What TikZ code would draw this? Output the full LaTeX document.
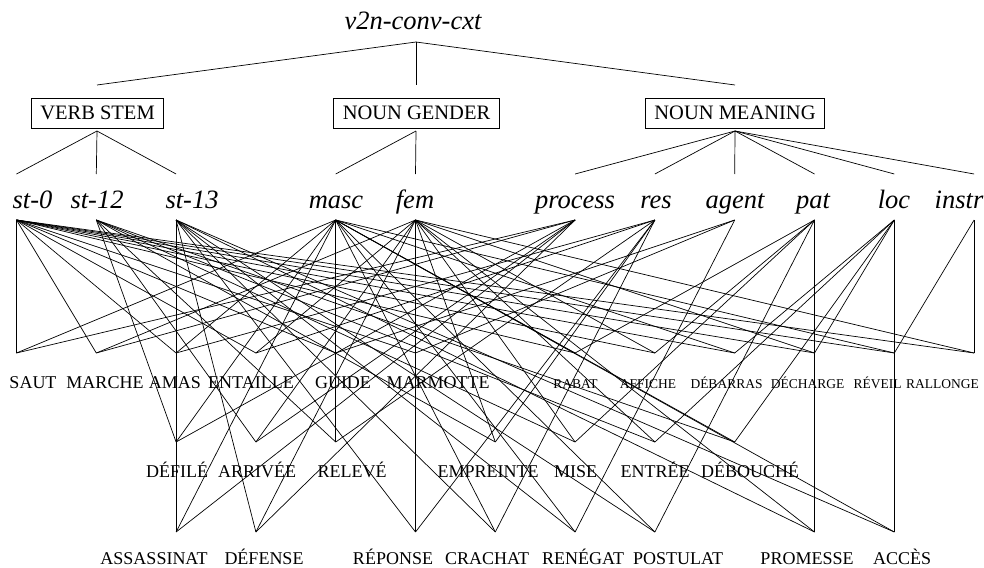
\documentclass[tikz,border=0pt]{standalone}
\usepackage{fontspec}
\setmainfont{Liberation Serif}
\begin{document}
\begin{tikzpicture}[x=1pt,y=-1pt,
  lbl/.style={anchor=base,inner sep=0pt},
  toplbl/.style={lbl,font=\fontsize{26.5}{30}\selectfont\itshape},
  biglbl/.style={lbl,font=\fontsize{18}{21}\selectfont},
  smalllbl/.style={lbl,font=\fontsize{13.5}{16}\selectfont},
  catbox/.style={draw,line width=0.8pt,inner xsep=9pt,inner ysep=0pt,minimum height=30pt,font=\fontsize{20.5}{24}\selectfont},
  conn/.style={line width=0.7pt}]
\useasboundingbox (0,0) rectangle (984,567);

% root and category boxes
\node[toplbl] (root) at (413,30) {v2n-conv-cxt};
\node[catbox] (vs) at (97.5,113) {VERB STEM};
\node[catbox] (ng) at (416.5,113) {NOUN GENDER};
\node[catbox] (nm) at (735,113) {NOUN MEANING};

\coordinate (root-b) at (416,42);
\coordinate (vs-t) at (97,85);
\coordinate (ng-t) at (416,85);
\coordinate (nm-t) at (735,85);
\coordinate (vs-b) at (97,131);
\coordinate (ng-b) at (416,131);
\coordinate (nm-b) at (735,131);

% type labels
\node[toplbl] (l-st0) at (32.5,208) {st-0};
\node[toplbl] (l-st12) at (97,208) {st-12};
\node[toplbl] (l-st13) at (192,208) {st-13};
\node[toplbl] (l-masc) at (336,208) {masc};
\node[toplbl] (l-fem) at (415,208) {fem};
\node[toplbl] (l-process) at (575,208) {process};
\node[toplbl] (l-res) at (656,208) {res};
\node[toplbl] (l-agent) at (735,208) {agent};
\node[toplbl] (l-pat) at (813,208) {pat};
\node[toplbl] (l-loc) at (894,208) {loc};
\node[toplbl] (l-instr) at (959,208) {instr};

% type attachment points (above and below the labels)
\foreach \n/\k in {st0/0,st12/1,st13/2,masc/4,fem/5,process/7,res/8,agent/9,pat/10,loc/11,instr/12}{
  \coordinate (\n-a) at ({16.5+79.8*\k},174);
  \coordinate (\n) at ({16.5+79.8*\k},220);
}

% leaf attachment points
\foreach \n/\k in {saut/0,marche/1,amas/2,entaille/3,guide/4,marmotte/5,rabat/7,affiche/8,debarras/9,decharge/10,reveil/11,rallonge/12}
  \coordinate (\n) at ({16.5+79.8*\k},353);
\foreach \n/\k in {defile/2,arrivee/3,releve/4,empreinte/6,mise/7,entree/8,debouche/9}
  \coordinate (\n) at ({16.5+79.8*\k},442);
\foreach \n/\k in {assassinat/2,defense/3,reponse/5,crachat/6,renegat/7,postulat/8,promesse/10,acces/11}
  \coordinate (\n) at ({16.5+79.8*\k},532);

% leaf labels
\node[biglbl] (w-saut) at (33,388) {SAUT};
\node[biglbl] (w-marche) at (105,388) {MARCHE};
\node[biglbl] (w-amas) at (175,388) {AMAS};
\node[biglbl] (w-entaille) at (251,388) {ENTAILLE};
\node[biglbl] (w-guide) at (343,388) {GUIDE};
\node[biglbl] (w-marmotte) at (438,388) {MARMOTTE};
\node[smalllbl] (w-rabat) at (575.5,388) {RABAT};
\node[smalllbl] (w-affiche) at (648,388) {AFFICHE};
\node[smalllbl] (w-debarras) at (726.5,388) {DÉBARRAS};
\node[smalllbl] (w-decharge) at (807.5,388) {DÉCHARGE};
\node[smalllbl] (w-reveil) at (877.5,388) {RÉVEIL};
\node[smalllbl] (w-rallonge) at (942.5,388) {RALLONGE};

\node[biglbl] (w-defile) at (177,477) {DÉFILÉ};
\node[biglbl] (w-arrivee) at (257,477) {ARRIVÉE};
\node[biglbl] (w-releve) at (352,477) {RELEVÉ};
\node[biglbl] (w-empreinte) at (488,477) {EMPREINTE};
\node[biglbl] (w-mise) at (575.5,477) {MISE};
\node[biglbl] (w-entree) at (655,477) {ENTRÉE};
\node[biglbl] (w-debouche) at (750,477) {DÉBOUCHÉ};

\node[biglbl] (w-assassinat) at (154,564) {ASSASSINAT};
\node[biglbl] (w-defense) at (264,564) {DÉFENSE};
\node[biglbl] (w-reponse) at (393,564) {RÉPONSE};
\node[biglbl] (w-crachat) at (487,564) {CRACHAT};
\node[biglbl] (w-renegat) at (583,564) {RENÉGAT};
\node[biglbl] (w-postulat) at (678,564) {POSTULAT};
\node[biglbl] (w-promesse) at (807,564) {PROMESSE};
\node[biglbl] (w-acces) at (902,564) {ACCÈS};

% hierarchy lines
\draw[conn] (root-b) -- (vs-t);
\draw[conn] (root-b) -- (ng-t);
\draw[conn] (root-b) -- (nm-t);
\foreach \c in {st0,st12,st13} \draw[conn] (vs-b) -- (\c-a);
\foreach \c in {masc,fem} \draw[conn] (ng-b) -- (\c-a);
\foreach \c in {process,res,agent,pat,loc,instr} \draw[conn] (nm-b) -- (\c-a);

% inheritance lines
\foreach \p/\l in {
  st0/{saut,marche,amas,entaille,guide,marmotte,rabat,affiche,debarras,decharge,reveil,rallonge},
  st12/{defile,arrivee,releve,empreinte,mise,entree,debouche},
  st13/{assassinat,defense,reponse,crachat,renegat,postulat,promesse,acces},
  masc/{saut,amas,guide,rabat,debarras,reveil,defile,releve,debouche,assassinat,crachat,renegat,postulat,acces},
  fem/{marche,entaille,marmotte,affiche,decharge,rallonge,arrivee,empreinte,mise,entree,defense,reponse,promesse},
  process/{saut,marche,defile,arrivee,assassinat,defense},
  res/{amas,entaille,releve,empreinte,reponse,crachat},
  agent/{guide,marmotte,renegat},
  pat/{rabat,affiche,mise,postulat,promesse},
  loc/{debarras,decharge,entree,debouche,acces},
  instr/{reveil,rallonge}}
  \foreach \c in \l \draw[conn] (\p) -- (\c);
\end{tikzpicture}
\end{document}
